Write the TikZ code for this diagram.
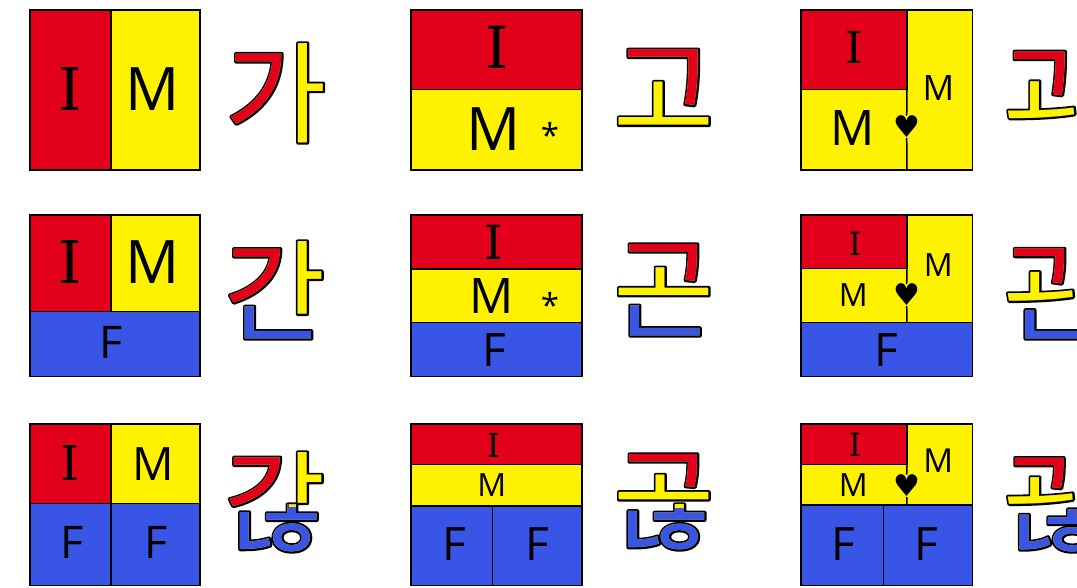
\documentclass[tikz,border=0pt]{standalone}
\usepackage{fontspec}
\newfontfamily\kof{Noto Sans CJK KR}
\newfontfamily\sanf{Open Sans}
\newfontfamily\serf{DejaVu Serif}
\newfontfamily\symf{DejaVu Sans}
\definecolor{cred}{HTML}{E3001B}
\definecolor{cyel}{HTML}{FFF200}
\definecolor{cblu}{HTML}{3955E6}
\makeatletter
\newcommand\strokeit[1]{\pgfsys@invoke{1 Tr 4 w 1 j 0 G}#1\pgfsys@invoke{0 Tr}}
\makeatother
\newcommand\fs[1]{\fontsize{#1}{#1}\selectfont}
\tikzset{
  cell/.style={draw=black, line width=1.5pt},
  sep/.style={draw=black, line width=1.5pt},
  lbl/.style={inner sep=0pt, anchor=base, text=black},
  hg/.style={inner sep=0pt, anchor=center, font=\kof\fs{110}},
  heart/.style={inner sep=0pt, anchor=center, font=\symf\fs{30}},
  star/.style={inner sep=0pt, anchor=base, font=\sanf\fs{33}},
}
% #1 name, #2 position, #3 syllable, #4 red clip, #5 blue clip
\newcommand\hsyl[5]{%
  \node[hg, text=black] (#1o) at (#2) {\strokeit{#3}};
  \node[hg, text=cyel] (#1y) at (#2) {#3};
  \begin{scope}\clip #4; \node[hg, text=cred] (#1r) at (#2) {#3};\end{scope}
  \begin{scope}\clip #5; \node[hg, text=cblu] (#1b) at (#2) {#3};\end{scope}
}
\begin{document}
\begin{tikzpicture}[x=1pt,y=-1pt]
\clip (0,0) rectangle (1077,587);
\fill[white] (0,0) rectangle (1077,587);

% ---------- column 1 ----------
\path[cell, fill=cred] (30,10) rectangle (111,170);
\path[cell, fill=cyel] (111,10) rectangle (200,170);
\node[lbl, font=\serf\fs{59}] (a1i) at (70,110) {I};
\node[lbl, font=\sanf\fs{60}] (a1m) at (153,110) {M};

\path[cell, fill=cred] (30,215) rectangle (111,311.7);
\path[cell, fill=cyel] (111,215) rectangle (200,311.7);
\path[cell, fill=cblu] (30,311.7) rectangle (200,376.5);
\node[lbl, font=\serf\fs{59}] (a2i) at (70,283) {I};
\node[lbl, font=\sanf\fs{60}] (a2m) at (153,283) {M};
\node[lbl, font=\sanf\fs{45}] (a2f) at (111,358.3) {F};

\path[cell, fill=cred] (30,424) rectangle (111,503.7);
\path[cell, fill=cyel] (111,424) rectangle (200,503.7);
\path[cell, fill=cblu] (30,503.7) rectangle (111,585.5);
\path[cell, fill=cblu] (111,503.7) rectangle (200,585.5);
\node[lbl, font=\serf\fs{48}] (a3i) at (70,480) {I};
\node[lbl, font=\sanf\fs{46}] (a3m) at (153,480) {M};
\node[lbl, font=\sanf\fs{45}] (a3f1) at (72,558.3) {F};
\node[lbl, font=\sanf\fs{45}] (a3f2) at (156,558.3) {F};

% ---------- column 2 ----------
\path[cell, fill=cred] (411,10) rectangle (582,89.3);
\path[cell, fill=cyel] (411,89.3) rectangle (582,170);
\node[lbl, font=\serf\fs{58}] (b1i) at (496.7,68.3) {I};
\node[lbl, font=\sanf\fs{60}] (b1m) at (494,150) {M};
\node[star] (b1s) at (550,147) {*};

\path[cell, fill=cred] (411,215) rectangle (582,269);
\path[cell, fill=cyel] (411,269) rectangle (582,322.7);
\path[cell, fill=cblu] (411,322.7) rectangle (582,376.5);
\node[lbl, font=\serf\fs{47}] (b2i) at (493.3,259) {I};
\node[lbl, font=\sanf\fs{49}] (b2m) at (491.7,313.3) {M};
\node[star] (b2s) at (550,317) {*};
\node[lbl, font=\sanf\fs{46}] (b2f) at (494,366.7) {F};

\path[cell, fill=cred] (411,424) rectangle (582,464.3);
\path[cell, fill=cyel] (411,464.3) rectangle (582,506);
\path[cell, fill=cblu] (411,506) rectangle (492.7,585.5);
\path[cell, fill=cblu] (492.7,506) rectangle (582,585.5);
\node[lbl, font=\serf\fs{33}] (b3i) at (493.3,457.7) {I};
\node[lbl, font=\sanf\fs{32}] (b3m) at (491.7,496.7) {M};
\node[lbl, font=\sanf\fs{46}] (b3f1) at (454,560) {F};
\node[lbl, font=\sanf\fs{46}] (b3f2) at (537.5,560) {F};

% ---------- column 3 ----------
\path[cell, fill=cyel] (801,10) rectangle (972.5,170);
\path[cell, fill=cred] (801,10) rectangle (907,89.3);
\node[lbl, font=\serf\fs{44}] (c1i) at (854,63.3) {I};
\node[lbl, font=\sanf\fs{49}] (c1m) at (852.7,145) {M};
\node[lbl, font=\sanf\fs{35}] (c1n) at (938.3,100) {M};
\node[heart] (c1h) at (906.7,126.7) {♥};
\draw[sep] (907,89.3) -- (c1h.north);
\draw[sep] (c1h.south) -- (907,170);

\path[cell, fill=cyel] (801,215) rectangle (972.5,322.7);
\path[cell, fill=cred] (801,215) rectangle (907,268.3);
\path[cell, fill=cblu] (801,322.7) rectangle (972.5,376.5);
\node[lbl, font=\serf\fs{32}] (c2i) at (855,255) {I};
\node[lbl, font=\sanf\fs{32}] (c2m) at (853.3,306.7) {M};
\node[lbl, font=\sanf\fs{32}] (c2n) at (938.3,276.7) {M};
\node[lbl, font=\sanf\fs{46}] (c2f) at (886,366.7) {F};
\node[heart] (c2h) at (906.7,295) {♥};
\draw[sep] (907,268.3) -- (c2h.north);
\draw[sep] (c2h.south) -- (907,322.7);

\path[cell, fill=cyel] (801,424) rectangle (972.5,505);
\path[cell, fill=cred] (801,424) rectangle (907,464.3);
\path[cell, fill=cblu] (801,505) rectangle (883.3,585.5);
\path[cell, fill=cblu] (883.3,505) rectangle (972.5,585.5);
\node[lbl, font=\serf\fs{32}] (c3i) at (855,456.7) {I};
\node[lbl, font=\sanf\fs{32}] (c3m) at (853.3,496.7) {M};
\node[lbl, font=\sanf\fs{33}] (c3n) at (938.3,472.3) {M};
\node[lbl, font=\sanf\fs{46}] (c3f1) at (843.3,560) {F};
\node[lbl, font=\sanf\fs{46}] (c3f2) at (926.7,560) {F};
\node[heart] (c3h) at (906.7,485.7) {♥};
\draw[sep] (907,464.3) -- (c3h.north);
\draw[sep] (c3h.south) -- (907,505);

% ---------- Hangul syllables ----------
\hsyl{ka}{276,93}{가}{(200,0) rectangle (288,190)}{(0,0) rectangle (0.1,0.1)}
\hsyl{kan}{275,290}{간}{(200,200) rectangle (288,305)}{(200,305) -- (288,305) -- (288,320) -- (360,320) -- (360,380) -- (200,380) -- cycle}
\hsyl{kanh}{275,502}{갆}{(200,400) rectangle (288,507)}{(200,507) rectangle (360,587)}

\hsyl{ko}{664,90}{고}{(600,0) -- (720,0) -- (720,112) -- (675,112) -- (675,75) -- (600,75) -- cycle}{(0,0) rectangle (0.1,0.1)}
\hsyl{kon}{664,290}{곤}{(600,200) -- (720,200) -- (720,283) -- (675,283) -- (675,262) -- (600,262) -- cycle}{(600,300) rectangle (720,380)}
\hsyl{konh}{664,502}{곦}{(600,400) -- (720,400) -- (720,487) -- (675,487) -- (675,470) -- (600,470) -- cycle}{(600,508) rectangle (720,587)}

\hsyl{koe}{1053,90}{괴}{(990,0) -- (1068,0) -- (1068,105) -- (1040,105) -- (1040,78) -- (990,78) -- cycle}{(0,0) rectangle (0.1,0.1)}
\hsyl{koen}{1053,290}{괸}{(990,200) -- (1068,200) -- (1068,287) -- (1040,287) -- (1040,265) -- (990,265) -- cycle}{(990,305) rectangle (1077,380)}
\hsyl{koenh}{1053,502}{괺}{(990,400) -- (1068,400) -- (1068,487) -- (1040,487) -- (1040,470) -- (990,470) -- cycle}{(990,508) rectangle (1077,587)}
\end{tikzpicture}
\end{document}
